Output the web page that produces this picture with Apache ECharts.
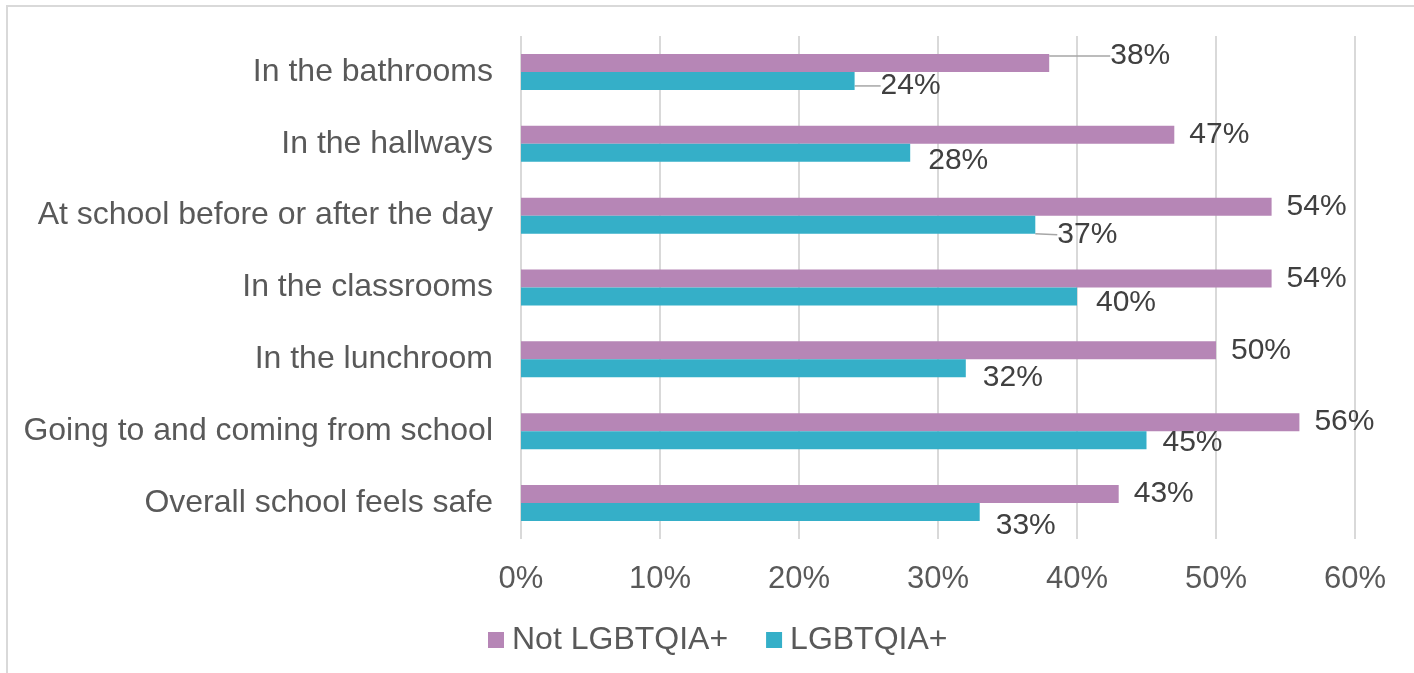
<!DOCTYPE html>
<html>
<head>
<meta charset="utf-8">
<script src="https://cdn.jsdelivr.net/npm/echarts@6/dist/echarts.min.js"></script>
<style>
  html, body { margin: 0; padding: 0; background: #ffffff; }
  #chart { width: 1414px; height: 673px; }
</style>
</head>
<body>
<div id="chart"></div>
<script>
// Places at school, listed top to bottom
const categories = [
  'In the bathrooms',
  'In the hallways',
  'At school before or after the day',
  'In the classrooms',
  'In the lunchroom',
  'Going to and coming from school',
  'Overall school feels safe'
];

// Percent of students who feel safe in each place
const notLgbtqia = [38, 47, 54, 54, 50, 56, 43];
const lgbtqia = [24, 28, 37, 40, 32, 45, 33];

const seriesNames = ['Not LGBTQIA+', 'LGBTQIA+'];
const xTicks = [0, 10, 20, 30, 40, 50, 60];

// Hand-placed label nudges [dx, dy] and which labels get a leader line
const pinkNudge = [[46, -7], [0, 0], [0, 0], [0, 0], [0, 0], [0, 0], [0, 0]];
const tealNudge = [[10, 5], [2, 8], [6, 10], [3, 6], [1, 9], [0, 3], [0, 14]];
const pinkLeader = [true, false, false, false, false, false, false];
const tealLeader = [true, false, true, false, false, false, false];

const FONT = '"Liberation Sans", Arial, sans-serif';
const PINK = '#b686b6';
const TEAL = '#35afc8';

function buildItems(values, leaders) {
  return values.map((v, i) => ({
    value: v,
    labelLine: { show: leaders[i] }
  }));
}

function layoutFrom(nudges) {
  return function (params) {
    const n = nudges[params.dataIndex] || [0, 0];
    return { dx: n[0], dy: n[1] };
  };
}

const chart = echarts.init(document.getElementById('chart'), null, { renderer: 'canvas' });

const labelBase = {
  show: true,
  position: 'right',
  distance: 15,
  color: '#404040',
  fontFamily: FONT,
  fontSize: 30,
  formatter: p => p.value + '%'
};

chart.setOption({
  animation: false,
  backgroundColor: '#ffffff',
  graphic: [
    {
      type: 'polyline',
      shape: { points: [[7, 700], [7, 6], [1420, 6]] },
      style: { stroke: '#d9d9d9', lineWidth: 2, fill: null },
      silent: true
    }
  ],
  legend: {
    left: 483,
    top: 619,
    itemWidth: 16,
    itemHeight: 16,
    itemGap: 38,
    icon: 'rect',
    data: seriesNames,
    textStyle: {
      color: '#595959',
      fontFamily: FONT,
      fontSize: 32,
      padding: [0, 0, 0, 3]
    }
  },
  grid: {
    left: 521,
    right: 59,
    top: 36,
    bottom: 134,
    containLabel: false
  },
  xAxis: {
    type: 'value',
    min: xTicks[0],
    max: xTicks[xTicks.length - 1],
    interval: xTicks[1] - xTicks[0],
    axisLine: { show: false },
    axisTick: { show: false },
    splitLine: { show: true, lineStyle: { color: '#d9d9d9', width: 2 } },
    axisLabel: {
      color: '#595959',
      fontFamily: FONT,
      fontSize: 31,
      margin: 25,
      formatter: v => v + '%'
    }
  },
  yAxis: {
    type: 'category',
    inverse: true,
    data: categories,
    axisLine: { show: false },
    axisTick: { show: false },
    axisLabel: {
      color: '#595959',
      fontFamily: FONT,
      fontSize: 32,
      margin: 28
    }
  },
  series: [
    {
      name: seriesNames[0],
      type: 'bar',
      data: buildItems(notLgbtqia, pinkLeader),
      barWidth: 18,
      barGap: '0%',
      barCategoryGap: '50%',
      itemStyle: { color: PINK },
      label: Object.assign({}, labelBase),
      labelLayout: layoutFrom(pinkNudge),
      labelLine: { show: false, lineStyle: { color: '#a6a6a6', width: 1.5 } }
    },
    {
      name: seriesNames[1],
      type: 'bar',
      data: buildItems(lgbtqia, tealLeader),
      barWidth: 18,
      barGap: '0%',
      barCategoryGap: '50%',
      itemStyle: { color: TEAL },
      label: Object.assign({}, labelBase, { distance: 16 }),
      labelLayout: layoutFrom(tealNudge),
      labelLine: { show: false, lineStyle: { color: '#a6a6a6', width: 1.5 } }
    }
  ]
});
</script>
</body>
</html>
